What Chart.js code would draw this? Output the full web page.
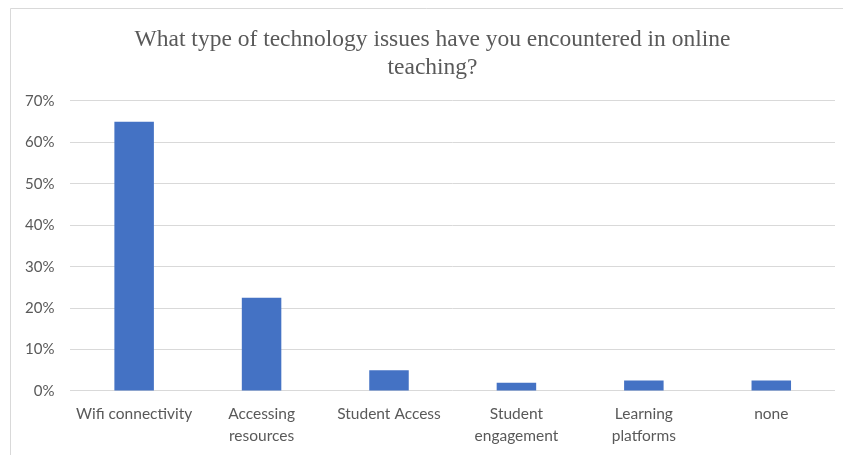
<!DOCTYPE html>
<html>
<head>
<meta charset="utf-8">
<script src="https://cdn.jsdelivr.net/npm/chart.js@4/dist/chart.umd.min.js"></script>
<style>
html,body{margin:0;padding:0;background:#fff;}
#wrap{position:relative;width:843px;height:455px;}
</style>
</head>
<body>
<div id="wrap"><canvas id="c" width="843" height="455"></canvas></div>
<script>
const categories = [["Wifi connectivity"], ["Accessing", "resources"], ["Student Access"], ["Student", "engagement"], ["Learning", "platforms"], ["none"]];
const values = [65, 22.5, 5, 2, 2.5, 2.5];
const titleLines = ["What type of technology issues have you encountered in online", "teaching?"];

const frame = {
  id: 'frame',
  beforeDraw(chart) {
    const ctx = chart.ctx;
    ctx.save();
    ctx.fillStyle = '#fff';
    ctx.fillRect(0, 0, chart.width, chart.height);
    ctx.strokeStyle = '#d9d9d9';
    ctx.lineWidth = 1;
    ctx.beginPath();
    ctx.moveTo(10.5, 460);
    ctx.lineTo(10.5, 8.5);
    ctx.lineTo(843, 8.5);
    ctx.stroke();
    ctx.restore();
  },
  afterLayout(chart) {
    const t = chart.titleBlock;
    if (t) { t.left += 21; }
  }
};

new Chart(document.getElementById('c'), {
  type: 'bar',
  data: {
    labels: categories,
    datasets: [{
      data: values,
      backgroundColor: '#4472c4',
      barPercentage: 0.31,
      categoryPercentage: 1
    }]
  },
  options: {
    responsive: false,
    animation: false,
    layout: { padding: { top: 26, left: 9, right: 8, bottom: 4 } },
    plugins: {
      legend: { display: false },
      tooltip: { enabled: false },
      title: {
        display: true,
        text: titleLines,
        color: '#595959',
        font: { family: 'Liberation Serif', size: 23.5, weight: 'normal', lineHeight: 1.19 },
        padding: { top: 0, bottom: 19 }
      }
    },
    scales: {
      x: {
        grid: { display: false },
        border: { display: false },
        ticks: { color: '#595959', font: { family: 'Lato', size: 15.5, lineHeight: 1.42 }, padding: 4, maxRotation: 0, autoSkip: false }
      },
      y: {
        min: 0, max: 70,
        grid: { color: '#d9d9d9', drawTicks: false },
        border: { display: false },
        ticks: { stepSize: 10, color: '#595959', font: { family: 'Lato', size: 15 }, padding: 16, callback: v => v + '%' }
      }
    }
  },
  plugins: [frame]
});
</script>
</body>
</html>
